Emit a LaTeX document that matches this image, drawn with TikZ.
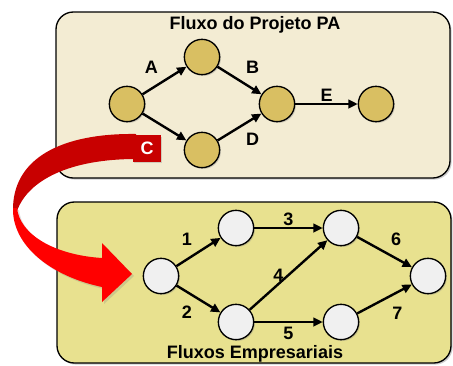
\documentclass[tikz,border=0pt]{standalone}
\usepackage{fontspec}
\setmainfont{Liberation Sans}
\usetikzlibrary{arrows.meta,shadows}

\definecolor{creamfill}{HTML}{F3ECD3}
\definecolor{khakifill}{HTML}{E8E18F}
\definecolor{goldnode}{HTML}{D9BF62}
\definecolor{greynode}{HTML}{F0F0F0}
\definecolor{ribbondark}{HTML}{C80000}
\definecolor{ribbonlight}{HTML}{FF0000}

\begin{document}
\begin{tikzpicture}[x=0.75pt,y=-0.75pt, font=\fontsize{13.5}{16}\selectfont\bfseries,
  panel/.style={draw=black,line width=1pt,rounded corners=13pt,
    drop shadow={shadow xshift=1.2pt,shadow yshift=-1.2pt,opacity=0.4}},
  evt/.style={circle,draw=black,line width=1pt,minimum size=26.5pt,inner sep=0pt,
    drop shadow={shadow xshift=1pt,shadow yshift=-1pt,opacity=0.3}},
  flow/.style={-{Triangle[length=7pt,width=6.5pt]},line width=1.8pt},
  lbl/.style={inner sep=1pt}]
\useasboundingbox (0,0) rectangle (453,365);

% project panel
\draw[panel,fill=creamfill] (56,12) rectangle (450,178);
\node (ttl1) at (255,25) {Fluxo do Projeto PA};
\node[evt,fill=goldnode] (n1) at (127,104) {};
\node[evt,fill=goldnode] (n2) at (202,57) {};
\node[evt,fill=goldnode] (n3) at (202,150) {};
\node[evt,fill=goldnode] (n4) at (277,104) {};
\node[evt,fill=goldnode] (n5) at (376,104) {};
% label anchor and shift (pt) per arrow
\foreach \a/\b/\t/\anc/\dx/\dy in {n1/n2/A/south east/-3/3, n2/n4/B/south west/3/3,
    n1/n3//center/0/0, n3/n4/D/north west/3/-3, n4/n5/E/south/0/0}
  \draw[flow] (\a) -- (\b) node[lbl,midway,anchor=\anc,xshift=\dx pt,yshift=\dy pt] {\t};

% business panel
\draw[panel,fill=khakifill] (57,202) rectangle (451,363);
\node (ttl2) at (255,354) {Fluxos Empresariais};
\node[evt,fill=greynode] (m1) at (161,276) {};
\node[evt,fill=greynode] (m2) at (236,228) {};
\node[evt,fill=greynode] (m3) at (236,322) {};
\node[evt,fill=greynode] (m4) at (341,228) {};
\node[evt,fill=greynode] (m5) at (341,322) {};
\node[evt,fill=greynode] (m6) at (428,276) {};
\foreach \a/\b/\t/\anc/\dx/\dy in {m1/m2/1/south east/-3/3, m1/m3/2/north east/-3/-3,
    m2/m4/3/south/0/0, m3/m4/4/east/-2/0, m3/m5/5/north/0/-2,
    m4/m6/6/south west/3/3, m5/m6/7/north west/4/-4}
  \draw[flow] (\a) -- (\b) node[lbl,midway,anchor=\anc,xshift=\dx pt,yshift=\dy pt] {\t};

% curved ribbon arrow from C down to the business flow
\fill[ribbondark] (136,134) .. controls (62,133) and (12,158) .. (13,211)
  -- (17,211) .. controls (28,180) and (70,159) .. (136,159) -- cycle;
\fill[ribbonlight,drop shadow={shadow xshift=1.5pt,shadow yshift=-1.5pt,opacity=0.25}]
  (13,208) .. controls (12,245) and (50,276) .. (102,287)
  -- (102,302) -- (132,274) -- (102,243) -- (102,258)
  .. controls (55,255) and (20,235) .. (17,208) -- cycle;
\node[fill=ribbondark,text=white,minimum width=21pt,minimum height=20pt,inner sep=0pt,
  drop shadow={shadow xshift=1pt,shadow yshift=-1pt,opacity=0.3}] (cbox) at (147,148.5) {C};
\end{tikzpicture}
\end{document}
